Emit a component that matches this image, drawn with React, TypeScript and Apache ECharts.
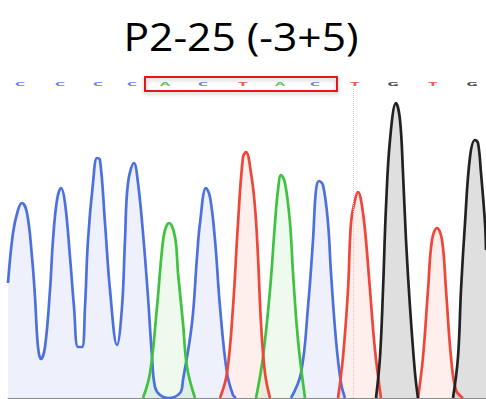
import React, { useEffect, useRef } from "react";
import * as echarts from "echarts";

const titleText = "P2-25 (-3+5)";

// Trace points: [scan position, signal]; null marks a gap between peaks
const traceC: (number | null)[][] = [
  [0, 115], [5, 165], [10, 188], [14, 195], [19, 185], [24, 141], [27, 101], [30, 51], [33, 39],
  [37, 51], [42, 108], [45, 158], [49, 198], [53, 210], [57, 195], [62, 141], [66, 91], [70, 51],
  [74, 51], [77, 91], [80, 158], [85, 215], [89, 240], [92, 238], [97, 175], [102, 108], [109, 53],
  [114, 91], [117, 158], [120, 215], [126, 235], [130, 215], [135, 165], [140, 101], [144, 41],
  [147, 11], [152, 3], [160, 0], [172, 5], [175, 18], [184, 75], [189, 141], [192, 175], [198, 210],
  [202, 201], [207, 158], [212, 91], [219, 25], [225, 3], [228, 0],
  [255, null],
  [283, 0], [293, 25], [300, 91], [305, 158], [308, 208], [311, 217], [315, 213], [320, 175],
  [323, 125], [328, 58], [333, 15], [337, 0],
];

const traceA: (number | null)[][] = [
  [135, 0], [142, 25], [149, 91], [154, 148], [157, 168], [161, 175], [167, 161], [170, 125],
  [175, 75], [179, 31], [187, 0],
  [220, null],
  [248, 0], [255, 41], [262, 108], [267, 175], [270, 208], [273, 223], [277, 215], [282, 175],
  [285, 125], [290, 58], [297, 0],
];

const traceT: (number | null)[][] = [
  [212, 0], [219, 25], [225, 91], [230, 175], [235, 241], [238, 246], [243, 225], [247, 191],
  [250, 141], [253, 75], [257, 25], [262, 0],
  [300, null],
  [330, 0], [335, 41], [340, 108], [343, 175], [347, 198], [350, 206], [353, 198], [357, 168],
  [362, 108], [367, 48], [373, 0],
  [390, null],
  [410, 0], [415, 41], [420, 108], [424, 158], [429, 170], [434, 158], [438, 108], [443, 41],
  [448, 8], [455, 0],
];

const traceG: (number | null)[][] = [
  [368, 0], [372, 41], [375, 108], [378, 191], [382, 258], [388, 295], [392, 278], [395, 225],
  [398, 158], [402, 91], [407, 25], [410, 0],
  [428, null],
  [445, 0], [450, 41], [453, 108], [457, 175], [462, 241], [467, 258], [470, 255], [473, 225],
  [477, 175], [478, 148],
];

// Base calls
const baseLetters = ["C", "C", "C", "C", "A", "C", "T", "A", "C", "T", "G", "T", "G"];
const basePositions = [12, 52, 90, 124, 157, 195, 235, 272, 307, 347, 385, 425, 464];
const highlightRange = [137, 329];
const cursorPosition = 345;

const xMax = 478;
const yMax = 310;
const letterLevel = 314;
const boxTop = 321;
const boxBottom = 307;

const baseColors: Record<string, string> = {
  C: "#5577e0",
  A: "#46c046",
  T: "#f0463a",
  G: "#333333",
};

function traceSeries(name: string, data: (number | null)[][], line: string, fill: string, extra: any = {}) {
  return {
    name,
    type: "line",
    data,
    smooth: 0.4,
    showSymbol: false,
    symbol: "none",
    connectNulls: false,
    lineStyle: { color: line, width: 2.7 },
    areaStyle: { color: fill, origin: "start" },
    z: 2,
    ...extra,
  };
}

export default function App() {
  const ref = useRef<HTMLDivElement>(null);
  useEffect(() => {
    if (!ref.current) return;
    const chart = echarts.init(ref.current, undefined, { renderer: "svg" });
    chart.setOption({
      animation: false,
      backgroundColor: "#ffffff",
      grid: { left: 8, right: 0, top: 88, bottom: 1, containLabel: false },
      xAxis: {
        type: "value",
        min: 0,
        max: xMax,
        axisLabel: { show: false },
        axisTick: { show: false },
        splitLine: { show: false },
        axisLine: { show: true, lineStyle: { color: "#8a8a8a", width: 1 } },
      },
      yAxis: {
        type: "value",
        min: 0,
        max: yMax,
        show: false,
        splitLine: { show: false },
      },
      graphic: [
        {
          type: "text",
          x: 241,
          y: 36,
          scaleX: 1.12,
          style: {
            text: titleText,
            fill: "#000000",
            font: '38px "Open Sans"',
            align: "center",
            verticalAlign: "middle",
            textAlign: "center",
            textVerticalAlign: "middle",
          },
        },
      ],
      series: [
        traceSeries("C", traceC, "#4c70de", "rgba(90,120,230,0.15)", {
          markLine: {
            silent: true,
            symbol: "none",
            label: { show: false },
            lineStyle: { color: "#d4cccc", type: "dotted", width: 1 },
            data: [{ xAxis: cursorPosition }],
          },
        }),
        traceSeries("A", traceA, "#3fc23f", "rgba(70,200,70,0.14)"),
        traceSeries("T", traceT, "#f0463a", "rgba(240,80,60,0.14)"),
        traceSeries("G", traceG, "#222222", "rgba(0,0,0,0.18)"),
        {
          type: "custom",
          clip: false,
          data: basePositions.map((x, i) => [x, i]),
          renderItem: (params: any, api: any) => {
            const letter = baseLetters[params.dataIndex];
            const p = api.coord([api.value(0), letterLevel]);
            return {
              type: "text",
              x: p[0],
              y: p[1],
              scaleX: 1.05,
              scaleY: 0.42,
              style: {
                text: letter,
                fill: baseColors[letter],
                font: 'bold 13px "DejaVu Sans"',
                align: "center",
                verticalAlign: "middle",
                textAlign: "center",
                textVerticalAlign: "middle",
                opacity: 0.9,
              },
            };
          },
          z: 5,
        },
        {
          type: "custom",
          clip: false,
          data: [[highlightRange[0], highlightRange[1]]],
          renderItem: (params: any, api: any) => {
            const p1 = api.coord([api.value(0), boxTop]);
            const p2 = api.coord([api.value(1), boxBottom]);
            return {
              type: "rect",
              shape: { x: p1[0], y: p1[1], width: p2[0] - p1[0], height: p2[1] - p1[1] },
              style: {
                fill: "none",
                stroke: "#e8161b",
                lineWidth: 2,
                shadowColor: "rgba(0,0,0,0.25)",
                shadowBlur: 4,
                shadowOffsetY: 2,
              },
            };
          },
          z: 6,
        },
      ],
    });
    return () => chart.dispose();
  }, []);
  return (
    <div
      ref={ref}
      style={{ position: "fixed", left: 0, top: 0, width: 486, height: 399 }}
    />
  );
}
